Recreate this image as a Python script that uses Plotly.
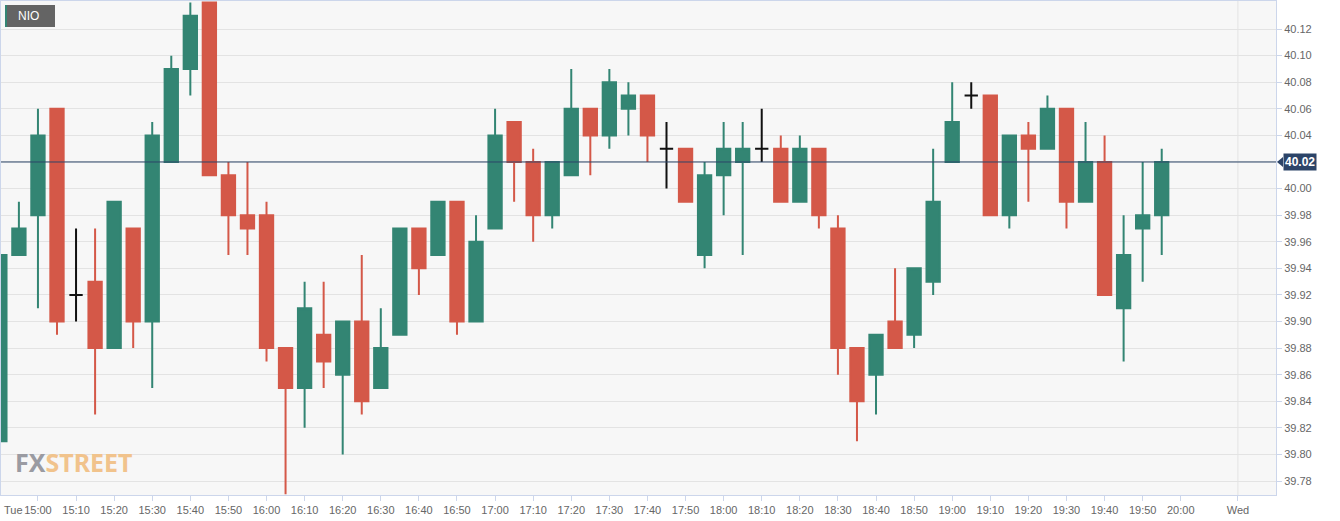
import plotly.graph_objects as go

# ---------------- data (5-minute candles, NIO) ----------------
times = ["14:50", "14:55", "15:00", "15:05", "15:10", "15:15", "15:20", "15:25",
         "15:30", "15:35", "15:40", "15:45", "15:50", "15:55", "16:00", "16:05",
         "16:10", "16:15", "16:20", "16:25", "16:30", "16:35", "16:40", "16:45",
         "16:50", "16:55", "17:00", "17:05", "17:10", "17:15", "17:20", "17:25",
         "17:30", "17:35", "17:40", "17:45", "17:50", "17:55", "18:00", "18:05",
         "18:10", "18:15", "18:20", "18:25", "18:30", "18:35", "18:40", "18:45",
         "18:50", "18:55", "19:00", "19:05", "19:10", "19:15", "19:20", "19:25",
         "19:30", "19:35", "19:40", "19:45", "19:50", "19:55"]
opens = [39.81, 39.95, 39.98, 40.06, 39.92, 39.93, 39.88, 39.97,
         39.90, 40.02, 40.09, 40.14, 40.01, 39.98, 39.98, 39.88,
         39.85, 39.89, 39.86, 39.90, 39.85, 39.89, 39.97, 39.95,
         39.99, 39.90, 39.97, 40.05, 40.02, 39.98, 40.01, 40.06,
         40.04, 40.06, 40.07, 40.03, 40.03, 39.95, 40.01, 40.02,
         40.03, 40.03, 39.99, 40.03, 39.97, 39.88, 39.86, 39.90,
         39.89, 39.93, 40.02, 40.07, 40.07, 39.98, 40.04, 40.03,
         40.06, 39.99, 40.02, 39.91, 39.97, 39.98]
highs = [39.96, 39.99, 40.06, 40.06, 39.97, 39.97, 39.99, 39.97,
         40.05, 40.10, 40.14, 40.14, 40.02, 40.02, 39.99, 39.88,
         39.93, 39.93, 39.90, 39.95, 39.91, 39.97, 39.97, 39.99,
         39.99, 39.98, 40.06, 40.05, 40.03, 40.02, 40.09, 40.06,
         40.09, 40.08, 40.07, 40.05, 40.03, 40.02, 40.05, 40.05,
         40.06, 40.04, 40.04, 40.03, 39.98, 39.88, 39.89, 39.94,
         39.94, 40.03, 40.08, 40.08, 40.07, 40.04, 40.05, 40.07,
         40.06, 40.05, 40.04, 39.98, 40.02, 40.03]
lows = [39.80, 39.95, 39.91, 39.89, 39.90, 39.83, 39.88, 39.88,
        39.85, 40.02, 40.07, 40.01, 39.95, 39.95, 39.87, 39.77,
        39.82, 39.85, 39.80, 39.83, 39.85, 39.89, 39.92, 39.95,
        39.89, 39.90, 39.97, 39.99, 39.96, 39.97, 40.01, 40.01,
        40.03, 40.04, 40.02, 40.00, 39.99, 39.94, 39.98, 39.95,
        40.02, 39.99, 39.99, 39.97, 39.86, 39.81, 39.83, 39.88,
        39.88, 39.92, 40.02, 40.06, 39.98, 39.97, 39.99, 40.03,
        39.97, 39.99, 39.92, 39.87, 39.93, 39.95]
closes = [39.95, 39.97, 40.04, 39.90, 39.92, 39.88, 39.99, 39.90,
          40.04, 40.09, 40.13, 40.01, 39.98, 39.97, 39.88, 39.85,
          39.91, 39.87, 39.90, 39.84, 39.88, 39.97, 39.94, 39.99,
          39.90, 39.96, 40.04, 40.02, 39.98, 40.02, 40.06, 40.04,
          40.08, 40.07, 40.04, 40.03, 39.99, 40.01, 40.03, 40.03,
          40.03, 39.99, 40.03, 39.98, 39.88, 39.84, 39.89, 39.88,
          39.94, 39.99, 40.05, 40.07, 39.98, 40.04, 40.03, 40.06,
          39.99, 40.02, 39.92, 39.95, 39.98, 40.02]

tick_labels = ["15:00", "15:10", "15:20", "15:30", "15:40", "15:50",
               "16:00", "16:10", "16:20", "16:30", "16:40", "16:50",
               "17:00", "17:10", "17:20", "17:30", "17:40", "17:50",
               "18:00", "18:10", "18:20", "18:30", "18:40", "18:50",
               "19:00", "19:10", "19:20", "19:30", "19:40", "19:50",
               "20:00"]
next_day_label = "Wed"
next_day_time = "20:15"
day_label = "Tue"
symbol = "NIO"
y_ticks = [39.78, 39.80, 39.82, 39.84, 39.86, 39.88, 39.90, 39.92, 39.94,
           39.96, 39.98, 40.00, 40.02, 40.04, 40.06, 40.08, 40.10, 40.12]

# ---------------- helpers ----------------
def slot(t):
    h, m = t.split(":")
    return (int(h) * 60 + int(m) - 15 * 60) / 5.0

xs = [slot(t) for t in times]
reg = [k for k in range(len(times)) if opens[k] != closes[k]]
doj = [k for k in range(len(times)) if opens[k] == closes[k]]

GREEN = "#338573"
RED = "#d45848"
NAVY = "#2c4468"

fig = go.Figure()
fig.add_trace(go.Candlestick(
    x=[xs[k] for k in reg],
    open=[opens[k] for k in reg], high=[highs[k] for k in reg],
    low=[lows[k] for k in reg], close=[closes[k] for k in reg],
    increasing=dict(line=dict(color=GREEN, width=2), fillcolor=GREEN),
    decreasing=dict(line=dict(color=RED, width=2), fillcolor=RED),
    whiskerwidth=0, hoverinfo="skip", showlegend=False,
))
fig.add_trace(go.Candlestick(
    x=[xs[k] for k in doj],
    open=[opens[k] for k in doj], high=[highs[k] for k in doj],
    low=[lows[k] for k in doj], close=[closes[k] for k in doj],
    increasing=dict(line=dict(color="#111111", width=2), fillcolor="#111111"),
    decreasing=dict(line=dict(color="#111111", width=2), fillcolor="#111111"),
    whiskerwidth=0, hoverinfo="skip", showlegend=False,
))

last_close = closes[-1]
wed_x = slot(next_day_time)

shapes = [
    dict(type="line", xref="x", yref="paper", x0=wed_x, x1=wed_x, y0=0, y1=1,
         line=dict(color="#e3e3e3", width=1), layer="below"),
    dict(type="line", xref="paper", yref="y", x0=0, x1=1, y0=last_close, y1=last_close,
         line=dict(color=NAVY, width=1), layer="above"),
    # NIO badge
    dict(type="rect", xref="paper", yref="paper", xsizemode="pixel", ysizemode="pixel",
         xanchor=0, yanchor=1, x0=4, x1=54, y0=-4, y1=-26,
         fillcolor="#646464", line=dict(width=0), layer="above"),
    dict(type="rect", xref="paper", yref="paper", xsizemode="pixel", ysizemode="pixel",
         xanchor=0, yanchor=1, x0=4, x1=6, y0=-4, y1=-26,
         fillcolor=GREEN, line=dict(width=0), layer="above"),
    # price label arrow
    dict(type="path", xref="paper", yref="y", xsizemode="pixel", ysizemode="pixel",
         xanchor=1, yanchor=last_close, path="M 1,0 L 7,-5 L 7,5 Z",
         fillcolor=NAVY, line=dict(width=0), layer="above"),
]

annotations = [
    dict(xref="paper", yref="paper", x=0, y=1, xanchor="left", yanchor="top",
         xshift=15, yshift=-6, text=symbol, showarrow=False,
         font=dict(family="Liberation Sans, Arial, sans-serif", size=12, color="#ffffff")),
    dict(xref="paper", yref="y", x=1, y=last_close, xanchor="left", yanchor="middle",
         xshift=7, text="<b>%.2f</b>" % last_close, showarrow=False,
         bgcolor=NAVY, borderpad=1,
         font=dict(family="Liberation Sans, Arial, sans-serif", size=12, color="#ffffff")),
    dict(xref="paper", yref="paper", x=0, y=0, xanchor="left", yanchor="middle",
         xshift=12, yshift=33, showarrow=False,
         text="<b><span style='color:#9a9ba2'>FX</span>"
              "<span style='color:#f1c38c'>STREET</span></b>",
         font=dict(family="Noto Sans, sans-serif", size=25)),
    dict(xref="paper", yref="paper", x=0, y=0, xanchor="left", yanchor="top",
         xshift=1, yshift=-7, text=day_label, showarrow=False,
         font=dict(family="Liberation Sans, Arial, sans-serif", size=11, color="#666666")),
]

fig.update_layout(
    width=1340, height=521,
    margin=dict(l=1, r=64, t=1, b=26, pad=0),
    paper_bgcolor="#ffffff", plot_bgcolor="#f7f7f7",
    boxgap=0.3, boxgroupgap=0,
    shapes=shapes, annotations=annotations,
    showlegend=False, hovermode=False,
    font=dict(family="Liberation Sans, Arial, sans-serif", size=11, color="#666666"),
)
fig.update_xaxes(
    range=[-1.94, 65.0], rangeslider=dict(visible=False),
    tickmode="array",
    tickvals=[slot(t) for t in tick_labels] + [wed_x],
    ticktext=tick_labels + [next_day_label],
    showgrid=False, zeroline=False,
    ticks="outside", ticklen=5, tickcolor="#ccd6eb",
    showline=True, linecolor="#ccd6eb", linewidth=1, mirror=True,
    tickfont=dict(size=11, color="#666666"),
)
fig.update_yaxes(
    range=[39.7695, 40.1411], side="right",
    tickmode="array", tickvals=y_ticks,
    ticktext=["" if abs(v - last_close) < 1e-9 else "%.2f" % v for v in y_ticks],
    showgrid=True, gridcolor="#e3e3e3", gridwidth=1, zeroline=False,
    ticks="outside", ticklen=5, tickcolor="#ccd6eb",
    showline=True, linecolor="#ccd6eb", linewidth=1, mirror=True,
    tickfont=dict(size=11, color="#666666"),
)

fig.write_html("out.html", config={"displayModeBar": False},
               post_script="document.body.style.margin='0';document.body.style.overflow='hidden';")
